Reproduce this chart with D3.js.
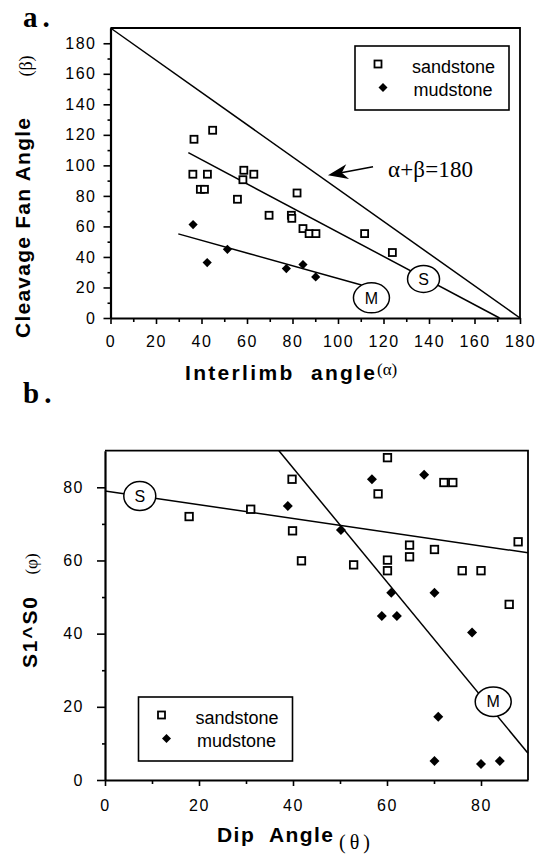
<!DOCTYPE html>
<html>
<head>
  <meta charset="utf-8"/>
  <title>Cleavage fan angle / S1^S0</title>
  <style type="text/css">
    body { margin:0; padding:0; background-color:white; }
    svg { display:block; }
    .axis text { font-family:"Liberation Sans", Arial, sans-serif; font-size:16px; letter-spacing:1.5px; fill:black; }
    .axlab { font-family:"Liberation Sans", Arial, sans-serif; font-weight:bold; font-size:21px; }
    .greek { font-family:"Liberation Serif", "Times New Roman", serif; }
    .leg { font-family:"Liberation Sans", Arial, sans-serif; font-size:18px; }
    .tag { font-family:"Liberation Sans", Arial, sans-serif; font-size:16px; }
    .title { font-family:"Liberation Serif", "Times New Roman", serif; font-weight:bold; font-size:29px; letter-spacing:5px; }
  </style>
  <script src="https://cdn.jsdelivr.net/npm/d3@7"></script>
</head>
<body>
<script type="text/javascript">

// ---- panel a : interlimb angle (alpha) vs cleavage fan angle (beta)
var sandA = [[36.7,117.1],[44.9,123],[36.2,94.2],[42.6,94.2],[39.5,84.3],[41.3,84.3],
             [58.6,96.8],[63,94.2],[58.2,90.6],[55.8,77.8],[69.7,67.3],[79.5,67.3],
             [79.7,65.3],[82,81.9],[84.6,58.6],[87.3,55.3],[90.3,55.3],[111.7,55.3],[123.9,42.9]];
var mudA = [[36.3,61.2],[42.5,36.3],[51.4,45],[77.3,32.4],[84.6,35],[90.2,26.9]];
var refLineA = [[0,190],[180,0]];          // alpha+beta=180 line as drawn
var sLineA = [[34.2,108.3],[171,0]];
var mLineA = [[29.8,55.1],[110.3,21.6]];
var tagsA = [{t:"S", p:[137.6,25.6], rx:16, ry:13.5}, {t:"M", p:[114.7,13.2], rx:18, ry:15}];
var arrowA = {tip:[95.6,93.5], tail:[115.4,99.1], label:[122,92.6], text:"α+β=180"};
var xTicksA = d3.range(0,181,20), xMinorA = d3.range(10,180,20);
var yTicksA = d3.range(0,181,20), yMinorA = d3.range(10,190,20);

// ---- panel b : dip angle (theta) vs S1^S0 (phi)
var sandB = [[17.9,72.0],[31.0,74.0],[60.1,88.1],[39.8,82.2],[58.1,78.2],[72.1,81.3],[74.0,81.3],
             [39.9,68.1],[41.8,59.9],[52.9,58.8],[60.1,60.1],[60.1,57.2],[64.8,64.2],[64.8,61.0],
             [70.1,63.0],[76.0,57.2],[80.0,57.2],[87.9,65.1],[86.0,48.0]];
var mudB = [[56.8,82.2],[67.9,83.4],[38.9,74.9],[50.2,68.3],[60.9,51.2],[70.1,51.2],[58.9,44.8],
            [62.1,44.8],[78.1,40.3],[70.9,17.3],[70.1,5.2],[80.0,4.4],[84.0,5.2]];
var sLineB = [[0,79.0],[90,62.1]];
var mLineB = [[37.0,90],[90,7.3]];
var tagsB = [{t:"S", p:[7.4,77.6], rx:16, ry:14.5}, {t:"M", p:[82.6,21.4], rx:18, ry:14.7}];
var xTicksB = d3.range(0,81,20), xMinorB = d3.range(10,90,20);
var yTicksB = d3.range(0,81,20), yMinorB = d3.range(10,90,20);

var legendNames = ["sandstone", "mudstone"];

var svg = d3.select("body").append("svg").attr("width", 544).attr("height", 854);

var xA = d3.scaleLinear().domain([0,180]).range([110.5,520]),
    yA = d3.scaleLinear().domain([0,190]).range([318,28]);
var xB = d3.scaleLinear().domain([0,90]).range([105,528]),
    yB = d3.scaleLinear().domain([0,90]).range([780,450.7]);

function drawPanel(x, y, o) {
  var g = svg.append("g");
  var x0 = x.range()[0], x1 = x.range()[1], y0 = y.range()[0], y1 = y.range()[1];

  // top and right frame
  g.append("path")
   .attr("d", d3.line()([[x0,y1],[x1,y1],[x1,y0]]))
   .attr("fill","none").attr("stroke","black").attr("stroke-width",1.8);

  // axes
  g.append("g").attr("class","axis").attr("transform","translate(0,"+y0+")")
   .call(d3.axisBottom(x).tickValues(o.xTicks).tickSize(6).tickSizeOuter(0)
           .tickPadding(o.xPad).tickFormat(d3.format("d")));
  g.append("g").attr("class","axis").attr("transform","translate(0,"+y0+")")
   .call(d3.axisBottom(x).tickValues(o.xMinor).tickSize(4).tickSizeOuter(0).tickFormat(""))
   .select(".domain").remove();
  g.append("g").attr("class","axis").attr("transform","translate("+x0+",0)")
   .call(d3.axisLeft(y).tickValues(o.yTicks).tickSize(o.yTick).tickSizeOuter(0)
           .tickPadding(o.yPad).tickFormat(d3.format("d")));
  g.append("g").attr("class","axis").attr("transform","translate("+x0+",0)")
   .call(d3.axisLeft(y).tickValues(o.yMinor).tickSize(3).tickSizeOuter(0).tickFormat(""))
   .select(".domain").remove();
  g.selectAll(".axis").attr("font-family", null).attr("font-size", null);
  g.selectAll(".axis .domain").attr("stroke-width", 2.2);
  g.selectAll(".axis line").attr("stroke-width", 1.6);

  // lines
  var line = d3.line().x(function(d){ return x(d[0]); }).y(function(d){ return y(d[1]); });
  o.lines.forEach(function(l) {
    g.append("path").attr("d", line(l)).attr("fill","none")
     .attr("stroke","black").attr("stroke-width",1.5);
  });

  // S / M tags
  var tag = g.selectAll(".tagc").data(o.tags).enter().append("g").attr("class","tagc");
  tag.append("ellipse")
     .attr("cx", function(d){ return x(d.p[0]); }).attr("cy", function(d){ return y(d.p[1]); })
     .attr("rx", function(d){ return d.rx; }).attr("ry", function(d){ return d.ry; })
     .attr("fill","white").attr("stroke","black").attr("stroke-width",1.5);
  tag.append("text").attr("class","tag")
     .attr("x", function(d){ return x(d.p[0]); }).attr("y", function(d){ return y(d.p[1]); })
     .attr("dy","0.36em").attr("text-anchor","middle").text(function(d){ return d.t; });

  // points
  g.selectAll(".sq").data(o.sand).enter().append("rect").attr("class","sq")
   .attr("x", function(d){ return x(d[0]) - o.sq/2; }).attr("y", function(d){ return y(d[1]) - o.sq/2; })
   .attr("width", o.sq).attr("height", o.sq)
   .attr("fill","white").attr("stroke","black").attr("stroke-width",1.8);
  g.selectAll(".dm").data(o.mud).enter().append("path").attr("class","dm")
   .attr("d", function(d){ return diamond(x(d[0]), y(d[1]), o.dm); })
   .attr("fill","black");

  // legend
  drawLegend(g, o.legend[0], o.legend[1]);
}

function diamond(cx, cy, r) {
  var p = d3.path();
  p.moveTo(cx, cy - r); p.lineTo(cx + r, cy); p.lineTo(cx, cy + r); p.lineTo(cx - r, cy); p.closePath();
  return p.toString();
}

function drawLegend(g, lx, ly) {
  var lg = g.append("g").attr("transform","translate("+lx+","+ly+")");
  lg.append("rect").attr("width",154).attr("height",64)
    .attr("fill","white").attr("stroke","black").attr("stroke-width",1.6);
  lg.append("rect").attr("x",19.5).attr("y",14.5).attr("width",7).attr("height",7)
    .attr("fill","white").attr("stroke","black").attr("stroke-width",1.8);
  lg.append("path").attr("d", diamond(28, 41.5, 4.5)).attr("fill","black");
  lg.append("text").attr("class","leg").attr("x",57).attr("y",27).text(legendNames[0]);
  lg.append("text").attr("class","leg").attr("x",58.5).attr("y",50).text(legendNames[1]);
}

drawPanel(xA, yA, {
  xTicks:xTicksA, xMinor:xMinorA, yTicks:yTicksA, yMinor:yMinorA,
  xPad:12, yTick:7, yPad:7,
  lines:[refLineA, sLineA, mLineA], tags:tagsA,
  sand:sandA, mud:mudA, sq:7, dm:4.6, legend:[355,46]
});

drawPanel(xB, yB, {
  xTicks:xTicksB, xMinor:xMinorB, yTicks:yTicksB, yMinor:yMinorB,
  xPad:14, yTick:8, yPad:13,
  lines:[sLineB, mLineB], tags:tagsB,
  sand:sandB, mud:mudB, sq:7.5, dm:5, legend:[138.5,697]
});

// arrow to the alpha+beta line
(function() {
  var tip = [xA(arrowA.tip[0]), yA(arrowA.tip[1])], tail = [xA(arrowA.tail[0]), yA(arrowA.tail[1])];
  var dx = tip[0]-tail[0], dy = tip[1]-tail[1], len = Math.sqrt(dx*dx+dy*dy);
  var ux = dx/len, uy = dy/len, px = -uy, py = ux;
  svg.append("path").attr("d", d3.line()([tail, [tip[0]-ux*12, tip[1]-uy*12]]))
     .attr("stroke","black").attr("stroke-width",1.6).attr("fill","none");
  svg.append("path").attr("d", d3.line()([
        tip,
        [tip[0]-ux*20+px*7.5, tip[1]-uy*20+py*7.5],
        [tip[0]-ux*14, tip[1]-uy*14],
        [tip[0]-ux*20-px*7.5, tip[1]-uy*20-py*7.5]]) + "Z")
     .attr("fill","black");
  svg.append("text").attr("class","greek")
     .attr("x", xA(arrowA.label[0])).attr("y", yA(arrowA.label[1]))
     .attr("font-size", 23).attr("textLength", 85).attr("lengthAdjust","spacing")
     .text(arrowA.text);
})();

// panel titles
svg.append("text").attr("class","title").attr("x",23).attr("y",26.5).text("a.");
svg.append("text").attr("class","title").attr("x",23).attr("y",403).text("b.");

// axis labels, panel a
svg.append("text").attr("class","axlab")
   .attr("transform","translate(30,228) rotate(-90)").attr("text-anchor","middle")
   .attr("textLength",220).attr("lengthAdjust","spacing").text("Cleavage Fan Angle");
svg.append("text").attr("class","greek").attr("font-size",18)
   .attr("transform","translate(32,66) rotate(-90)").attr("text-anchor","middle").text("(β)");
svg.append("text").attr("class","axlab").attr("x",185).attr("y",380)
   .attr("textLength",190).attr("lengthAdjust","spacing").attr("xml:space","preserve")
   .text("Interlimb  angle");
svg.append("text").attr("class","greek").attr("font-size",17).attr("x",377).attr("y",375).text("(α)");

// axis labels, panel b
svg.append("text").attr("class","axlab")
   .attr("transform","translate(37,632.5) rotate(-90)").attr("text-anchor","middle")
   .attr("textLength",71).attr("lengthAdjust","spacing").text("S1^S0");
svg.append("text").attr("class","greek").attr("font-size",17)
   .attr("transform","translate(37,564) rotate(-90)").attr("text-anchor","middle").text("(φ)");
svg.append("text").attr("class","axlab").attr("x",217).attr("y",842)
   .attr("textLength",116).attr("lengthAdjust","spacing").attr("xml:space","preserve")
   .text("Dip  Angle");
svg.append("text").attr("class","greek").attr("font-size",20).attr("x",339).attr("y",849)
   .attr("textLength",31).attr("lengthAdjust","spacing").text("(θ)");

</script>
</body>
</html>
